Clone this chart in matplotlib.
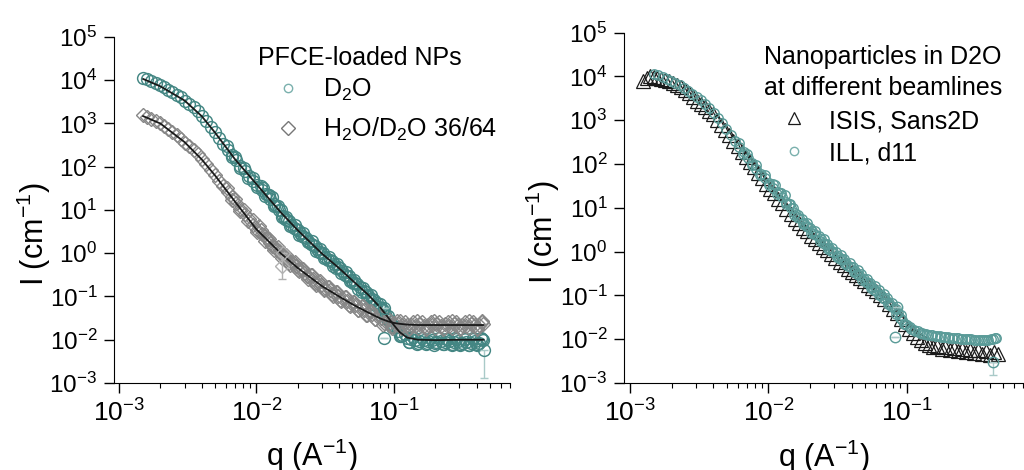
import matplotlib
matplotlib.use("Agg")
import matplotlib.pyplot as plt
from matplotlib.lines import Line2D

plt.rcParams["font.family"] = ["Liberation Sans", "DejaVu Sans"]
plt.rcParams["mathtext.fontset"] = "custom"
plt.rcParams["mathtext.rm"] = "Liberation Sans"
plt.rcParams["mathtext.it"] = "Liberation Sans:italic"
plt.rcParams["mathtext.bf"] = "Liberation Sans:bold"

# ---- left panel: PFCE-loaded NPs in two solvents ----
q_left = [0.00150, 0.00160, 0.00172, 0.00185, 0.00198, 0.00212, 0.00228, 0.00245, 0.00263, 0.00282,
          0.00303, 0.00325, 0.00349, 0.00375, 0.00403, 0.00432, 0.00464, 0.00498, 0.00535, 0.00574,
          0.00617, 0.00662, 0.00711, 0.00763, 0.00820, 0.00880, 0.00945, 0.01015, 0.0109, 0.0117,
          0.0126, 0.0135, 0.0145, 0.0156, 0.0167, 0.0180, 0.0193, 0.0207, 0.0223, 0.0239,
          0.0257, 0.0276, 0.0296, 0.0318, 0.0342, 0.0367, 0.0394, 0.0423, 0.0455, 0.0488,
          0.0524, 0.0563, 0.0605, 0.0650, 0.0698, 0.0750, 0.0805, 0.0865, 0.093, 0.100,
          0.107, 0.115, 0.124, 0.133, 0.143, 0.153, 0.165, 0.177, 0.190, 0.204,
          0.219, 0.235, 0.253, 0.272, 0.292, 0.313, 0.337, 0.362, 0.389, 0.418, 0.445]

i_d2o = [11500, 10500, 9500, 8500, 7600, 6800, 6000, 5250, 4600, 4000,
         3400, 2820, 2350, 1900, 1480, 1150, 850, 620, 450, 330,
         250, 190, 140, 105, 78, 60, 48, 38, 29.5, 23,
         17.8, 13.5, 10, 7.4, 5.9, 4.6, 3.6, 2.95, 2.4, 1.95,
         1.55, 1.26, 1.02, 0.83, 0.69, 0.575, 0.47, 0.38, 0.30, 0.245,
         0.20, 0.162, 0.132, 0.110, 0.087, 0.069, 0.054, 0.040, 0.028, 0.021,
         0.0162, 0.0132, 0.0112, 0.0102, 0.0098, 0.0095, 0.0100, 0.0093, 0.0098, 0.0091,
         0.0096, 0.0089, 0.0093, 0.0087, 0.0095, 0.0085, 0.0091, 0.0083, 0.0093, 0.0085, 0.0100]

i_mix = [1550, 1410, 1260, 1120, 1000, 890, 760, 645, 537, 447,
         363, 295, 240, 195, 151, 115, 85, 65, 48, 35.5,
         26.3, 19.5, 14.5, 10.7, 8.1, 6.2, 4.6, 3.5, 2.75, 2.2,
         1.74, 1.38, 1.10, 0.87, 0.74, 0.62, 0.51, 0.43, 0.355, 0.30,
         0.25, 0.21, 0.182, 0.158, 0.138, 0.120, 0.105, 0.091, 0.079, 0.069,
         0.062, 0.055, 0.049, 0.044, 0.039, 0.035, 0.031, 0.0275, 0.025, 0.024,
         0.023, 0.0224, 0.0219, 0.0225, 0.0213, 0.0228, 0.0210, 0.0224, 0.0216, 0.0230,
         0.0212, 0.0226, 0.0208, 0.0231, 0.0215, 0.0222, 0.0207, 0.0229, 0.0214, 0.0224, 0.0235]

# second detector setting, overlapping the main curves at medium/high q
q_d2o_b = [0.0112, 0.0121, 0.0131, 0.0140, 0.0151, 0.0162, 0.0174, 0.0187, 0.0200, 0.0215,
           0.0231, 0.0248, 0.0266, 0.0286, 0.0307, 0.0330, 0.0354, 0.0380, 0.0408, 0.0438,
           0.0471, 0.0506, 0.0543, 0.0583, 0.0627, 0.0673, 0.0723, 0.0777, 0.0835, 0.0897,
           0.0965, 0.111, 0.128, 0.148, 0.171, 0.197, 0.228, 0.263, 0.303, 0.350,
           0.404, 0.43, 0.38, 0.33, 0.28, 0.24]
i_d2o_b = [33, 22, 19.5, 12.2, 9.8, 6.1, 5.6, 3.9, 3.5, 2.5,
           2.3, 1.6, 1.5, 1.05, 1.0, 0.68, 0.66, 0.46, 0.45, 0.31,
           0.30, 0.20, 0.195, 0.13, 0.13, 0.088, 0.085, 0.056, 0.050, 0.030,
           0.022, 0.0125, 0.0088, 0.0080, 0.0078, 0.0076, 0.0079, 0.0075, 0.0077, 0.0074,
           0.0078, 0.0110, 0.0107, 0.0105, 0.0108, 0.0104]

q_mix_b = [0.0105, 0.0113, 0.0122, 0.0131, 0.0140, 0.0151, 0.0162, 0.0174, 0.0187, 0.0201,
           0.0216, 0.0232, 0.0249, 0.0267, 0.0287, 0.0308, 0.0331, 0.0355, 0.0381, 0.0409,
           0.0440, 0.0472, 0.0507, 0.0545, 0.0585, 0.0628, 0.0675, 0.0725, 0.0779, 0.0837,
           0.0900, 0.0967, 0.111, 0.128, 0.148, 0.171, 0.197, 0.228, 0.263, 0.303,
           0.350, 0.404, 0.44]
i_mix_b = [4.2, 2.6, 2.3, 1.5, 1.35, 0.95, 0.85, 0.60, 0.60, 0.42,
           0.44, 0.30, 0.31, 0.20, 0.22, 0.148, 0.165, 0.112, 0.125, 0.082,
           0.095, 0.062, 0.074, 0.048, 0.060, 0.038, 0.046, 0.030, 0.038, 0.022,
           0.030, 0.019, 0.027, 0.018, 0.027, 0.018, 0.027, 0.018, 0.027, 0.018,
           0.027, 0.018, 0.027]

# third setting, fills in between the other two
q_c = [0.0061, 0.0066, 0.0070, 0.0076, 0.0081, 0.0087, 0.0094, 0.0101, 0.0108, 0.0116,
       0.0124, 0.0134, 0.0143, 0.0154, 0.0165, 0.0177, 0.0190, 0.0204, 0.0219, 0.0236,
       0.0253, 0.0272, 0.0291, 0.0313, 0.0336, 0.0360, 0.0387, 0.0415, 0.0446, 0.0479,
       0.0514, 0.0552, 0.0592, 0.0636, 0.0683, 0.0733, 0.0787, 0.0845, 0.0908, 0.0975,
       0.105, 0.113, 0.121, 0.130, 0.139, 0.150, 0.161, 0.173, 0.185, 0.199,
       0.214, 0.230, 0.247, 0.265, 0.284, 0.305, 0.328, 0.352, 0.378, 0.406, 0.436]
i_d2o_c = [300, 167, 172, 93, 94, 55, 56, 33.5, 35, 21,
           22, 12.2, 12.2, 6.8, 7.0, 4.2, 4.4, 2.65, 2.9, 1.78,
           1.9, 1.15, 1.23, 0.76, 0.83, 0.52, 0.56, 0.35, 0.37, 0.226,
           0.24, 0.150, 0.161, 0.101, 0.107, 0.064, 0.068, 0.038, 0.036, 0.020,
           0.0200, 0.0122, 0.0136, 0.0091, 0.0114, 0.0084, 0.0112, 0.0083, 0.0110, 0.0083,
           0.0108, 0.0081, 0.0106, 0.0079, 0.0105, 0.0078, 0.0104, 0.0077, 0.0102, 0.0077, 0.0103]
i_mix_c = [33, 16.8, 18.3, 9.4, 10, 5.5, 5.8, 3.05, 3.4, 1.93,
           2.15, 1.2, 1.36, 0.77, 0.9, 0.54, 0.63, 0.38, 0.44, 0.26,
           0.31, 0.185, 0.225, 0.139, 0.168, 0.105, 0.127, 0.080, 0.097, 0.060,
           0.075, 0.048, 0.059, 0.038, 0.047, 0.030, 0.038, 0.024, 0.030, 0.0207,
           0.0275, 0.0191, 0.0258, 0.0188, 0.0258, 0.0188, 0.0258, 0.0188, 0.0258, 0.0188,
           0.0258, 0.0188, 0.0258, 0.0188, 0.0258, 0.0188, 0.0258, 0.0188, 0.0258, 0.0188, 0.0258]

# stray points and error bars
q_d2o_odd = [0.0855, 0.0845, 0.455]
i_d2o_odd = [0.055, 0.011, 0.0058]
err_d2o_lo = [0.0, 0.0, 0.0045]
q_mix_odd = [0.0157, 0.0154]
i_mix_odd = [1.0, 0.52]
err_mix_lo = [0.0, 0.26]
err_mix_hi = [0.0, 0.35]

# model fits
q_fit = [0.0015, 0.002, 0.003, 0.004, 0.005, 0.007, 0.010, 0.015, 0.02, 0.03, 0.04,
         0.05, 0.065, 0.08, 0.09, 0.10, 0.11, 0.125, 0.15, 0.2, 0.3, 0.45]
fit_d2o = [10700, 7250, 3400, 1480, 617, 148, 39.8, 8.9, 3.4, 0.98, 0.45,
           0.234, 0.110, 0.055, 0.034, 0.0219, 0.0151, 0.0112, 0.0100, 0.0098, 0.0100, 0.0100]
fit_mix = [1480, 1000, 372, 148, 63, 15.5, 3.6, 1.0, 0.457, 0.174, 0.100,
           0.066, 0.0427, 0.0309, 0.0269, 0.0245, 0.0234, 0.0224, 0.0219, 0.0219, 0.0219, 0.0219]

# ---- right panel: same nanoparticles in D2O, two beamlines ----
q_isis = [0.00125, 0.00132, 0.00140, 0.00148, 0.00157, 0.00167, 0.00178, 0.00190, 0.00203, 0.00217,
          0.00232, 0.00248, 0.00265, 0.00284, 0.00304, 0.00325, 0.00348, 0.00373, 0.00399, 0.00427,
          0.00457, 0.00489, 0.00523, 0.00560, 0.00600, 0.00642, 0.00687, 0.00735, 0.00787, 0.00842,
          0.00901, 0.00964, 0.0103, 0.0110, 0.0118, 0.0126, 0.0135, 0.0145, 0.0155, 0.0166,
          0.0178, 0.0190, 0.0204, 0.0218, 0.0233, 0.0250, 0.0267, 0.0286, 0.0306, 0.0328,
          0.0351, 0.0375, 0.0402, 0.0430, 0.0460, 0.0492, 0.0527, 0.0564, 0.0604, 0.0646,
          0.0691, 0.0740, 0.0792, 0.0847, 0.0907, 0.0970, 0.104, 0.111, 0.119, 0.127,
          0.136, 0.146, 0.156, 0.167, 0.179, 0.191, 0.205, 0.219, 0.234, 0.251,
          0.268, 0.287, 0.307, 0.329, 0.352, 0.377, 0.403, 0.431, 0.455]
i_isis = [7900, 9300, 10000, 9800, 9300, 8900, 8300, 7800, 7100, 6300,
          5600, 4800, 4100, 3400, 2800, 2350, 1950, 1620, 1350, 1020,
          775, 590, 447, 340, 257, 190, 145, 110, 83, 63,
          47, 35.5, 27.5, 21.4, 16.2, 12.6, 9.5, 7.2, 5.5, 4.4,
          3.5, 2.9, 2.3, 1.9, 1.58, 1.29, 1.07, 0.87, 0.72, 0.59,
          0.49, 0.41, 0.347, 0.295, 0.245, 0.209, 0.174, 0.148, 0.123, 0.102,
          0.081, 0.065, 0.050, 0.039, 0.0295, 0.0224, 0.0170, 0.0135, 0.0112, 0.0095,
          0.0083, 0.0072, 0.0066, 0.0071, 0.0060, 0.0065, 0.0056, 0.0062, 0.0054, 0.0060,
          0.0050, 0.0058, 0.0049, 0.0056, 0.0046, 0.0054, 0.0043, 0.0050, 0.0045]

i_ill = [11500, 10600, 9600, 8700, 7800, 7000, 6200, 5400, 4700, 4050,
         3450, 2850, 2350, 1900, 1480, 1130, 840, 615, 450, 330,
         245, 185, 138, 103, 77, 59, 47, 37, 29, 22.5,
         17.5, 13.3, 10, 7.5, 5.9, 4.6, 3.6, 2.9, 2.35, 1.9,
         1.5, 1.22, 0.99, 0.80, 0.66, 0.55, 0.45, 0.36, 0.29, 0.235,
         0.19, 0.155, 0.126, 0.103, 0.083, 0.066, 0.052, 0.040, 0.027, 0.021,
         0.0175, 0.0155, 0.0142, 0.0133, 0.0127, 0.0122, 0.0118, 0.0114, 0.0111, 0.0108,
         0.0106, 0.0104, 0.0102, 0.0100, 0.0099, 0.0098, 0.0097, 0.0096, 0.0097, 0.0099, 0.0108]
i_ill_c = [300, 167, 172, 93, 94, 55, 56, 33.5, 35, 21,
           22, 12.2, 12.2, 6.8, 7.0, 4.2, 4.4, 2.65, 2.9, 1.78,
           1.9, 1.15, 1.23, 0.76, 0.83, 0.52, 0.56, 0.35, 0.37, 0.226,
           0.24, 0.150, 0.161, 0.101, 0.107, 0.064, 0.068, 0.038, 0.036, 0.022,
           0.019, 0.0165, 0.0150, 0.0138, 0.0130, 0.0125, 0.0120, 0.0116, 0.0113, 0.0110,
           0.0107, 0.0105, 0.0102, 0.0100, 0.0099, 0.0098, 0.0097, 0.0096, 0.0097, 0.0099, 0.0104]
q_ill_odd = [0.0855, 0.083, 0.42]
i_ill_odd = [0.055, 0.011, 0.0030]
err_ill_lo = [0.0, 0.0, 0.0015]

TEAL = "#438683"
TEAL_LIGHT = "#5a9b98"
GRAY = "#878787"

fig = plt.figure(figsize=(10.24, 4.70), dpi=100)
ax1 = fig.add_axes([0.1113, 0.1851, 0.3867, 0.7362])
ax2 = fig.add_axes([0.6094, 0.1851, 0.3906, 0.7457])

circ = dict(ls="none", marker="o", ms=8.5, mfc="none", mec=TEAL, mew=1.05)
diam = dict(ls="none", marker="D", ms=6.8, mfc="none", mec=GRAY, mew=1.0)

# left panel
ax1.plot(q_left, i_d2o, **circ)
ax1.plot(q_d2o_b, i_d2o_b, **circ)
ax1.plot(q_c, i_d2o_c, **circ)
ax1.errorbar(q_d2o_odd, i_d2o_odd, yerr=[err_d2o_lo, [0, 0, 0]], ecolor="#a9cac8",
             elinewidth=1, capsize=3, **circ)
ax1.plot(q_left, i_mix, **diam)
ax1.plot(q_mix_b, i_mix_b, **diam)
ax1.plot(q_c, i_mix_c, **diam)
ax1.errorbar(q_mix_odd, i_mix_odd, yerr=[err_mix_lo, err_mix_hi], ecolor="#b0b0b0",
             elinewidth=1, capsize=3, **dict(diam, mec="#b0b0b0"))
ax1.plot(q_fit, fit_d2o, color="#1a1a1a", lw=1.3)
ax1.plot(q_fit, fit_mix, color="#1a1a1a", lw=1.3)
ax1.set_xlim(9.2e-4, 0.70)

# right panel
ring = dict(ls="none", marker="o", ms=6.8, mfc="none", mec=TEAL_LIGHT, mew=1.0)
ax2.plot(q_isis, i_isis, ls="none", marker="^", ms=9.5, mfc="none", mec="#1a1a1a", mew=0.9)
ax2.plot(q_left, i_ill, **ring)
ax2.plot(q_c, i_ill_c, **ring)
ax2.plot(q_d2o_b[:31], i_d2o_b[:31], **ring)
ax2.errorbar(q_ill_odd, i_ill_odd, yerr=[err_ill_lo, [0, 0, 0]], ecolor="#a9cac8",
             elinewidth=1, capsize=3, **dict(ring, ms=7.5))
ax2.set_xlim(9.05e-4, 0.706)

for ax in (ax1, ax2):
    ax.set_xscale("log")
    ax.set_yscale("log")
    ax.set_ylim(1e-3, 1e5)
    ax.set_yticks([10.0 ** k for k in range(-3, 6)])
    ax.spines["top"].set_visible(False)
    ax.spines["right"].set_visible(False)
    ax.tick_params(which="major", direction="out", length=7, width=1)
    ax.tick_params(which="minor", direction="out", length=3.5, width=0.8)
    ax.tick_params(axis="y", which="major", labelsize=17.5, pad=5)
    ax.tick_params(axis="x", which="major", labelsize=19, pad=5)
    ax.set_xlabel("q (A$^{-1}$)", fontsize=22)
    ax.set_ylabel("I (cm$^{-1}$)", fontsize=22)
    ax.xaxis.set_label_coords(0.5, -0.155)
    ax.yaxis.set_label_coords(-0.154, 0.43)


def legend_row(x_mark, y_mark, x_text, y_text, label, **style):
    fig.add_artist(Line2D([x_mark / 1024], [1 - y_mark / 470], transform=fig.transFigure,
                          ls="none", mfc="none", **style))
    fig.text(x_text / 1024, 1 - y_text / 470, label, fontsize=18, va="baseline")


fig.text(258 / 1024, 1 - 65 / 470, "PFCE-loaded NPs", fontsize=18, va="baseline")
legend_row(288, 88, 323, 97, "D$_2$O", marker="o", ms=6, mec="#7ab0ad", mew=1)
legend_row(288, 128, 323, 137, "H$_2$O/D$_2$O 36/64", marker="D", ms=7, mec="#777777", mew=1)

fig.text(764 / 1024, 1 - 64 / 470, "Nanoparticles in D2O", fontsize=18, va="baseline")
fig.text(764 / 1024, 1 - 95 / 470, "at different beamlines", fontsize=18, va="baseline")
legend_row(794, 118, 829, 128, "ISIS, Sans2D", marker="^", ms=8.5, mec="#1a1a1a", mew=0.9)
legend_row(794, 151, 829, 160, "ILL, d11", marker="o", ms=6, mec="#7ab0ad", mew=1)

fig.savefig("out.png", dpi=100)
